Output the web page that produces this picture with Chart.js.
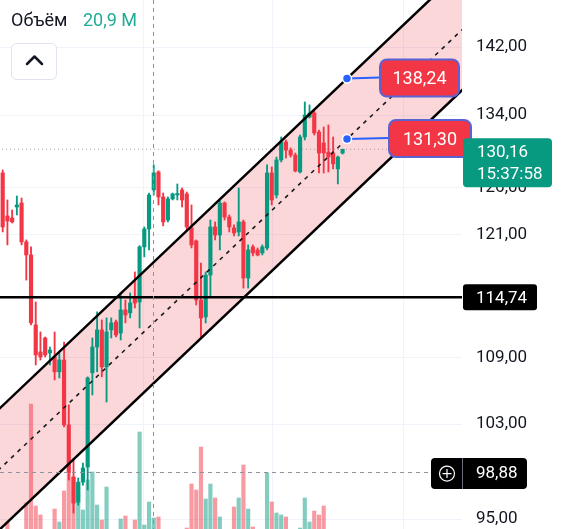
<!DOCTYPE html>
<html>
<head>
<meta charset="utf-8">
<script src="https://cdn.jsdelivr.net/npm/chart.js@4.4.1/dist/chart.umd.min.js"></script>
<style>
  html, body { margin: 0; padding: 0; background: #fff; }
  #wrap { width: 566px; height: 529px; }
</style>
</head>
<body>
<div id="wrap"><canvas id="chart" width="566" height="529"></canvas></div>
<script>
// Candles (one per bar, left to right)
const opens = [127.56, 122.97, 122.76, 123.92, 124.34, 120.29, 118.96, 112.08, 109.53, 110.84,
  109.43, 109.06, 107.69, 108.78, 102.93, 98.46, 96.38, 98.04, 99.30, 107.60,
  109.99, 111.60, 108.14, 111.60, 112.36, 111.31, 113.52, 113.23, 114.77, 114.29,
  119.78, 121.62, 125.73, 127.67, 124.98, 122.55, 124.77, 125.19, 125.73, 125.30,
  121.73, 120.39, 114.48, 112.84, 116.94, 121.83, 121.00, 124.34, 122.86, 121.73,
  121.31, 122.35, 116.64, 119.78, 119.47, 119.16, 119.67, 127.56, 125.19, 128.98,
  130.97, 130.07, 129.52, 127.67, 131.53, 133.78, 134.24, 132.09, 130.86, 129.85,
  129.74, 128.00, 129.74];
const highs = [127.89, 124.66, 123.60, 125.08, 124.87, 120.49, 119.78, 114.29, 111.41, 110.93,
  109.99, 111.41, 109.43, 110.46, 104.70, 99.90, 98.38, 99.64, 107.23, 110.84,
  113.33, 112.55, 112.75, 112.75, 112.55, 115.17, 114.48, 115.17, 117.25, 119.90,
  121.83, 125.40, 128.44, 127.80, 125.40, 124.98, 125.40, 126.37, 125.94, 125.51,
  124.13, 120.49, 118.15, 117.25, 122.55, 122.35, 124.66, 124.45, 123.08, 122.04,
  125.94, 122.55, 119.98, 119.98, 119.67, 119.98, 128.44, 128.22, 129.30, 131.53,
  131.19, 130.30, 129.74, 131.75, 135.51, 135.17, 134.47, 132.31, 132.65, 132.88,
  131.53, 129.41, 130.16];
const lows = [121.31, 119.98, 122.24, 123.08, 119.98, 116.44, 112.08, 108.32, 108.78, 109.06,
  108.32, 106.95, 107.13, 102.76, 98.21, 95.49, 96.14, 97.79, 97.38, 105.59,
  107.69, 107.23, 104.96, 110.84, 110.93, 110.65, 112.27, 112.75, 113.71, 111.79,
  118.76, 119.47, 125.19, 124.13, 121.94, 122.35, 124.66, 124.66, 123.92, 121.52,
  119.67, 114.00, 110.93, 112.27, 114.77, 120.49, 119.47, 122.55, 121.31, 120.90,
  120.90, 115.65, 115.65, 118.86, 118.86, 118.96, 119.47, 124.13, 124.87, 128.76,
  129.19, 129.30, 127.67, 127.56, 131.19, 133.67, 131.75, 127.56, 127.56, 127.67,
  128.00, 126.37, 129.63];
const closes = [121.83, 122.45, 122.35, 124.13, 120.29, 118.96, 112.27, 109.25, 109.06, 109.25,
  109.71, 107.69, 108.78, 102.93, 98.80, 96.30, 98.04, 99.22, 107.13, 109.99,
  111.60, 108.14, 111.41, 112.27, 111.12, 113.52, 113.03, 114.19, 114.19, 119.78,
  121.62, 125.19, 127.56, 124.98, 122.35, 124.77, 125.30, 125.35, 124.66, 121.83,
  119.98, 114.48, 112.74, 116.94, 121.83, 121.00, 124.34, 122.86, 121.83, 121.21,
  122.35, 116.64, 119.47, 119.16, 118.96, 119.78, 127.56, 124.66, 128.98, 130.97,
  130.07, 129.52, 127.78, 131.53, 134.01, 134.24, 131.98, 129.74, 129.74, 129.30,
  128.55, 129.30, 130.16];
// volume, millions
const volumes = [8, 18, 8, 8, 8, 37, 136, 34, 25, 8,
  8, 31, 18, 49, 66, 63, 57, 30, 60, 68,
  35, 20, 53, 8, 8, 21, 24, 8, 20, 108,
  15, 38, 22, 23, 6, 5, 6, 4, 7, 12,
  56, 50, 93, 41, 56, 42, 23, 7, 6, 33,
  42, 75, 31, 13, 6, 5, 67, 38, 27, 25,
  23, 6, 5, 12, 42, 18, 29, 25, 34, 8,
  6, 7, 5];

const priceTicks = [95, 103, 109, 121, 126, 134, 142];
const timeGrid = [29.93, 57.26, 85.01];

// parallel channel drawing (bar index, price)
const channelIdx = [-1, 98];
const channelUpper = [104.24, 152.12];
const channelMid = [99.01, 144.48];
const channelLower = [94.03, 137.23];
const tagIdx = 72.94;
const tagUpper = 138.24;
const tagMid = 131.30;

const levelPrice = 114.74;
const lastPrice = 130.16;
const lastTime = '15:37:58';
const crossPrice = 98.88;
const crossIdx = 31.9;
const volumeText = '20,9 M';

const UP = '#089981';
const DOWN = '#f23645';
const FONT = 'Roboto, "Noto Sans", sans-serif';
const fmt = v => v.toFixed(2).replace('.', ',');

const idx = opens.map((_, i) => i);
const candleColors = idx.map(i => closes[i] >= opens[i] ? UP : DOWN);
const volColors = idx.map(i => closes[i] >= opens[i] ? 'rgba(8,153,129,0.5)' : 'rgba(242,54,69,0.5)');
const seg = ys => channelIdx.map((x, k) => ({ x: x, y: ys[k] }));
const flat = v => channelIdx.map(x => ({ x: x, y: v }));

function box(ctx, x, y, w, h, r, fill, stroke) {
  ctx.beginPath();
  ctx.roundRect(x, y, w, h, r);
  ctx.fillStyle = fill;
  ctx.fill();
  if (stroke) {
    ctx.strokeStyle = stroke;
    ctx.lineWidth = 2;
    ctx.stroke();
  }
}

const overlay = {
  id: 'overlay',
  afterDraw(chart) {
    const { ctx, chartArea: area } = chart;
    const x = chart.scales.x, y = chart.scales.y;
    ctx.save();

    // crosshair
    ctx.strokeStyle = '#8f929b';
    ctx.lineWidth = 1;
    ctx.setLineDash([4, 4]);
    const cx = Math.round(x.getPixelForValue(crossIdx)) + 0.5;
    ctx.beginPath(); ctx.moveTo(cx, 0); ctx.lineTo(cx, chart.height); ctx.stroke();
    const cy = Math.round(y.getPixelForValue(crossPrice)) + 0.5;
    ctx.beginPath(); ctx.moveTo(0, cy); ctx.lineTo(area.right - 31, cy); ctx.stroke();
    ctx.setLineDash([]);

    // channel price tags
    const dx = x.getPixelForValue(tagIdx);
    const tags = [[tagUpper, 33, 79], [tagMid, 42, 82]];
    ctx.font = '18px ' + FONT;
    ctx.textAlign = 'center';
    ctx.textBaseline = 'middle';
    tags.forEach(([p, gap, w]) => {
      const py = y.getPixelForValue(p);
      ctx.strokeStyle = '#2962ff';
      ctx.lineWidth = 2;
      ctx.beginPath(); ctx.moveTo(dx, py); ctx.lineTo(dx + gap, py - 1); ctx.stroke();
      box(ctx, dx + gap, py - 19, w, 37, 7, DOWN, '#5b63d3');
      ctx.fillStyle = '#fff';
      ctx.fillText(fmt(p), dx + gap + w / 2, py + 1);
      ctx.beginPath(); ctx.arc(dx, py, 4.5, 0, Math.PI * 2);
      ctx.fillStyle = '#2962ff'; ctx.fill();
      ctx.strokeStyle = '#fff'; ctx.lineWidth = 1.5; ctx.stroke();
    });

    // axis labels
    ctx.textAlign = 'left';
    ctx.font = '17px ' + FONT;
    const ly = y.getPixelForValue(levelPrice);
    box(ctx, area.right + 1, ly - 13, 74, 26, 3, '#000');
    ctx.fillStyle = '#fff';
    ctx.fillText(fmt(levelPrice), area.right + 14, ly + 1);

    const lp = y.getPixelForValue(lastPrice);
    box(ctx, area.right + 1, lp - 11, 89, 49, 4, UP);
    ctx.fillStyle = '#fff';
    ctx.fillText(fmt(lastPrice), area.right + 15, lp + 3);
    ctx.fillText(lastTime, area.right + 15, lp + 25);

    const cp = y.getPixelForValue(crossPrice);
    box(ctx, area.right - 31, cp - 14, 96, 31, 4, '#000');
    ctx.strokeStyle = '#6a6d78'; ctx.lineWidth = 1;
    ctx.beginPath(); ctx.moveTo(area.right + 0.5, cp - 14); ctx.lineTo(area.right + 0.5, cp + 17); ctx.stroke();
    ctx.strokeStyle = '#fff'; ctx.lineWidth = 1.2;
    const px = area.right - 15;
    ctx.beginPath(); ctx.arc(px, cp + 1.5, 7.5, 0, Math.PI * 2); ctx.stroke();
    ctx.beginPath();
    ctx.moveTo(px - 4.5, cp + 1.5); ctx.lineTo(px + 4.5, cp + 1.5);
    ctx.moveTo(px, cp - 3); ctx.lineTo(px, cp + 6);
    ctx.stroke();
    ctx.fillStyle = '#fff';
    ctx.fillText(fmt(crossPrice), area.right + 14, cp + 2);

    // legend + collapse button
    ctx.textBaseline = 'alphabetic';
    ctx.font = '18px ' + FONT;
    ctx.fillStyle = '#131722';
    ctx.fillText('Объём', 11, 26);
    ctx.fillStyle = '#22ab94';
    ctx.fillText(volumeText, 83, 26);
    box(ctx, 11.5, 43.5, 45, 36, 5, '#fff', null);
    ctx.strokeStyle = '#e0e3eb'; ctx.lineWidth = 1; ctx.stroke();
    ctx.strokeStyle = '#131722'; ctx.lineWidth = 2.5; ctx.lineCap = 'round'; ctx.lineJoin = 'round';
    ctx.beginPath(); ctx.moveTo(27, 64); ctx.lineTo(34.5, 56.5); ctx.lineTo(42, 64); ctx.stroke();
    ctx.restore();
  }
};

new Chart(document.getElementById('chart'), {
  data: {
    datasets: [
      { type: 'line', data: seg(channelUpper), borderColor: '#000', borderWidth: 2.5, pointRadius: 0, order: 1 },
      { type: 'line', data: seg(channelLower), borderColor: '#000', borderWidth: 2.5, pointRadius: 0, order: 1 },
      { type: 'line', data: seg(channelMid), borderColor: '#1a1a1a', borderWidth: 1.6, borderDash: [4, 5], pointRadius: 0, order: 1 },
      { type: 'line', data: flat(levelPrice), borderColor: '#000', borderWidth: 2.5, pointRadius: 0, order: 1 },
      { type: 'line', data: flat(lastPrice), borderColor: '#9fa3ab', borderWidth: 1, borderDash: [1, 3], pointRadius: 0, order: 6 },
      { type: 'bar', grouped: false, data: idx.map(i => ({ x: i, y: [Math.min(opens[i], closes[i]), Math.max(opens[i], closes[i])] })),
        backgroundColor: candleColors, barThickness: 3.5, minBarLength: 1, order: 2 },
      { type: 'bar', grouped: false, data: idx.map(i => ({ x: i, y: [lows[i], highs[i]] })),
        backgroundColor: candleColors, barThickness: 1.2, order: 3 },
      { type: 'line', data: seg(channelUpper), borderWidth: 0, pointRadius: 0, order: 4 },
      { type: 'line', data: seg(channelLower), borderWidth: 0, pointRadius: 0, fill: 7,
        backgroundColor: 'rgba(242,54,69,0.2)', order: 4 },
      { type: 'bar', grouped: false, yAxisID: 'vol', data: idx.map(i => ({ x: i, y: volumes[i] })),
        backgroundColor: volColors, barThickness: 3.5, order: 7 }
    ]
  },
  options: {
    responsive: false,
    animation: false,
    devicePixelRatio: 1,
    layout: { padding: 0 },
    plugins: { legend: { display: false }, tooltip: { enabled: false } },
    scales: {
      x: {
        type: 'linear', min: -0.57, max: 97.3, offset: false,
        grid: { color: '#f0f3fa', drawTicks: false, offset: false },
        border: { display: false },
        ticks: { display: false },
        afterBuildTicks: s => { s.ticks = timeGrid.map(value => ({ value })); },
        afterFit: s => { s.height = 0; s.paddingLeft = 0; s.paddingRight = 0; }
      },
      y: {
        type: 'logarithmic', position: 'right', min: 94.2, max: 147.8, bounds: 'data',
        grid: { color: '#f0f3fa', drawTicks: false },
        border: { display: false },
        ticks: { padding: 14, autoSkip: false, color: '#131722', font: { family: FONT, size: 17 }, callback: v => fmt(v) },
        afterBuildTicks: s => { s.ticks = priceTicks.map(value => ({ value })); },
        afterFit: s => { s.width = 104; s.paddingTop = 0; s.paddingBottom = 0; }
      },
      vol: { type: 'linear', display: false, min: 11, max: 540 }
    }
  },
  plugins: [overlay]
});
</script>
</body>
</html>
